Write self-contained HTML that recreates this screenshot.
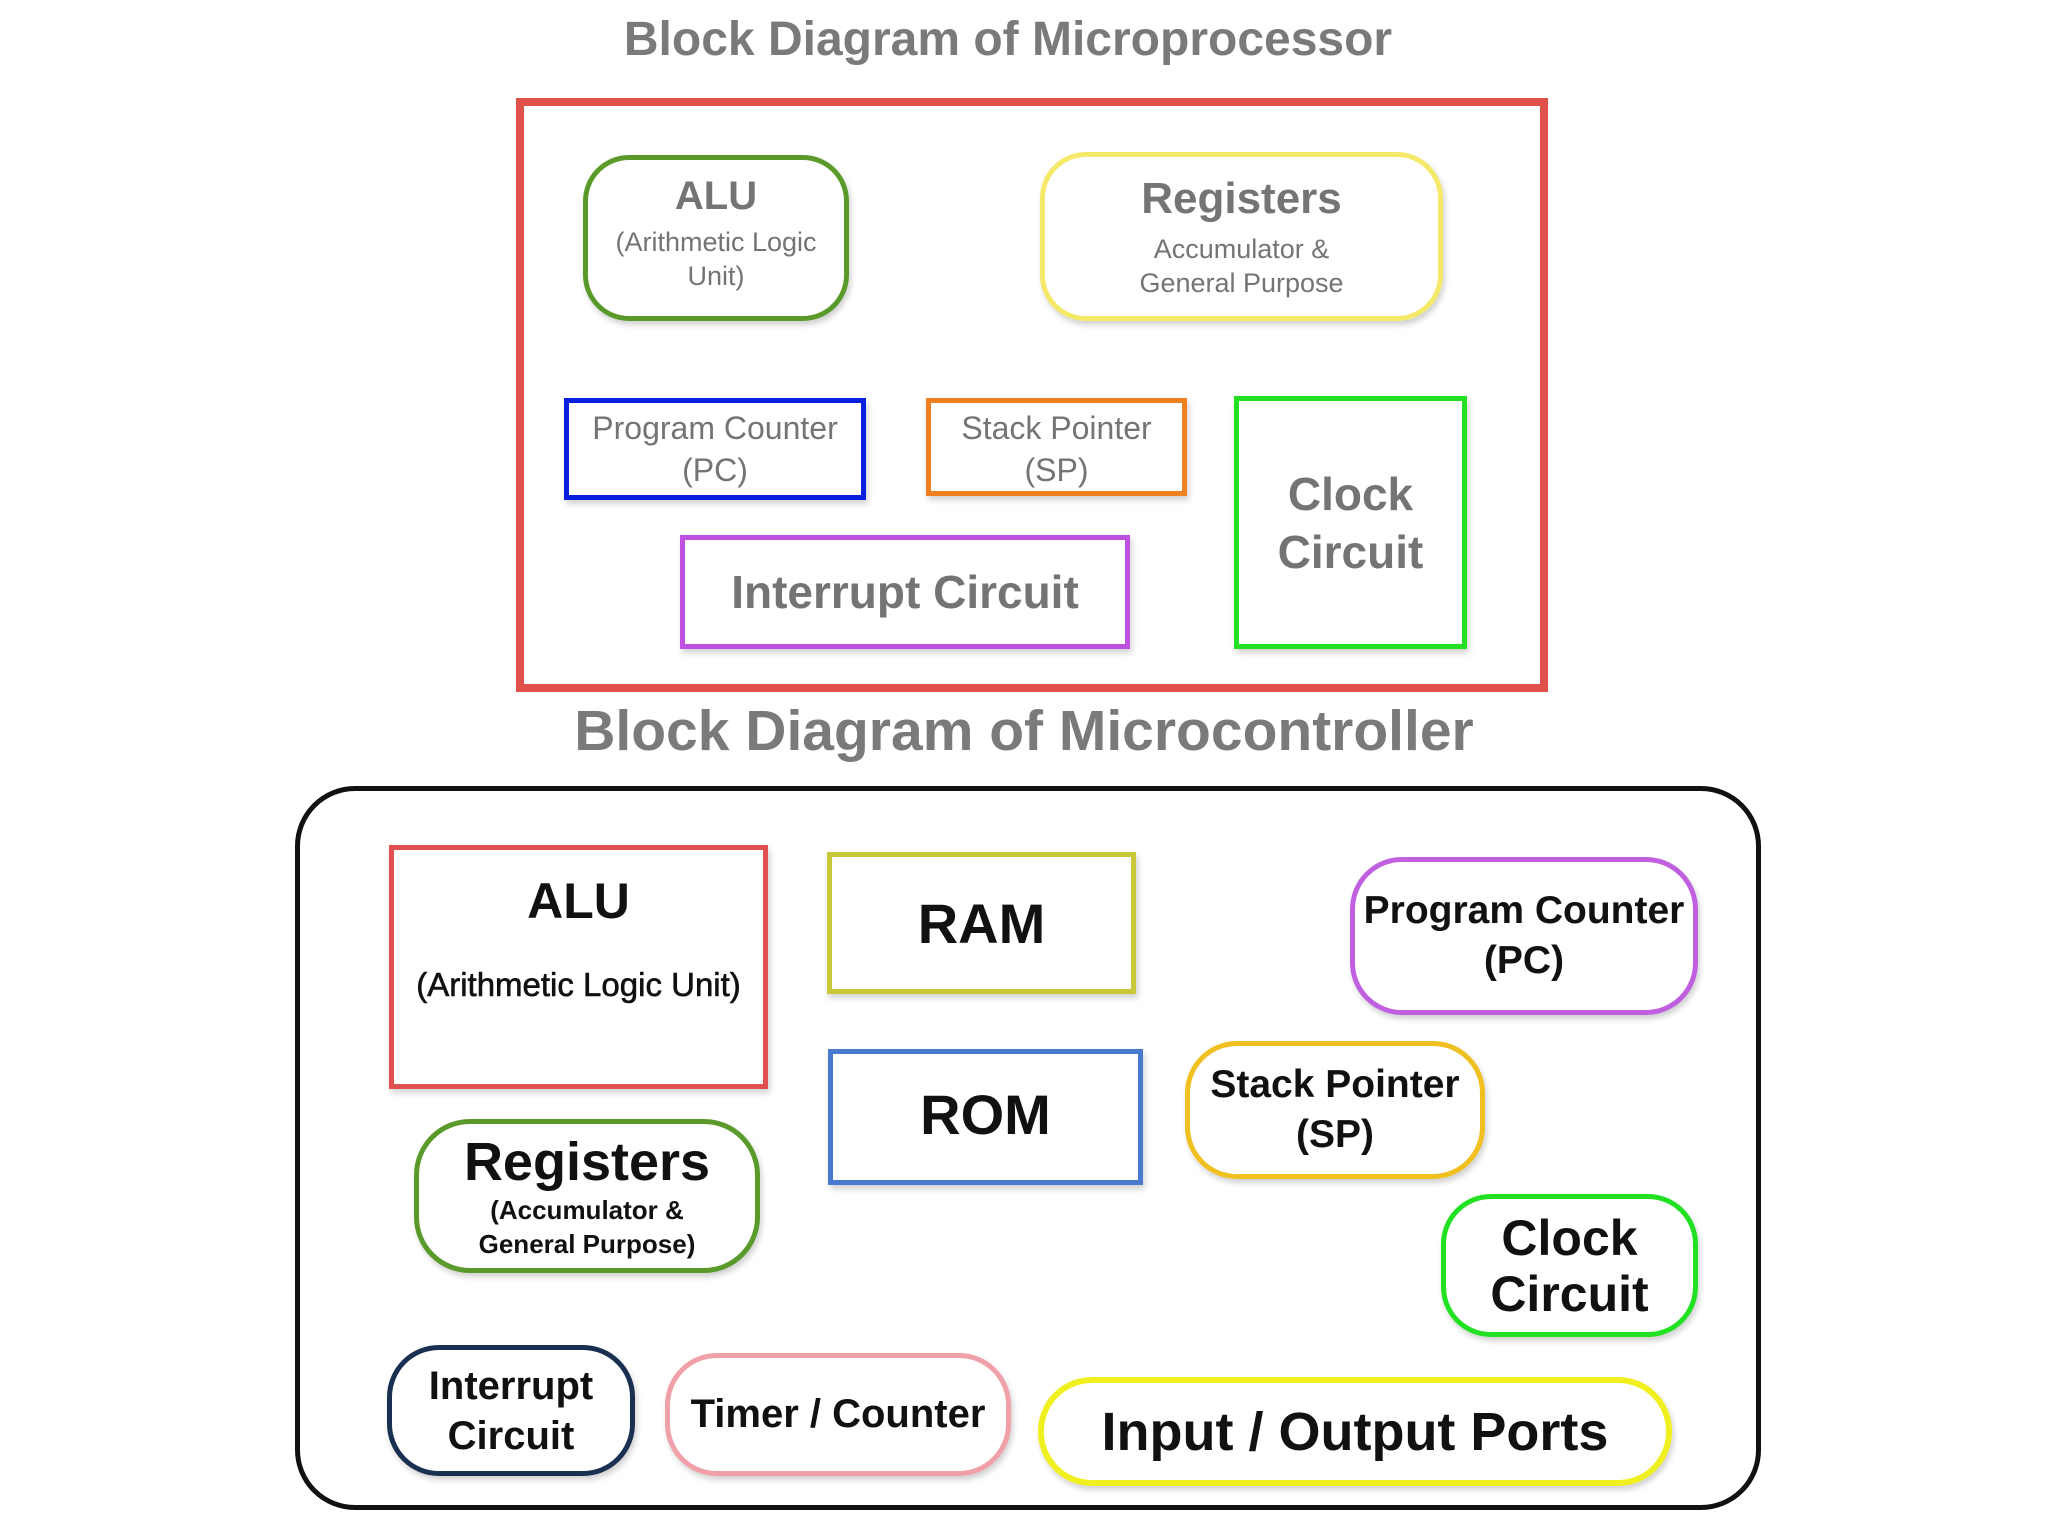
<!DOCTYPE html>
<html><head><meta charset="utf-8"><style>
html,body{margin:0;padding:0;background:#fff}
body{width:2048px;height:1536px;position:relative;overflow:hidden;font-family:"Liberation Sans",sans-serif}
.b{position:absolute;box-sizing:border-box;display:flex;flex-direction:column;align-items:center;justify-content:center;text-align:center;box-shadow:2px 4px 6px rgba(0,0,0,0.18)}
.g{color:#747474;font-weight:bold}
.k{color:#111;font-weight:bold}
.t{position:absolute;width:2048px;text-align:center;color:#7a7a7a;font-weight:bold}
</style></head><body>
<div class="t" style="top:12px;font-size:48px;left:-16px">Block Diagram of Microprocessor</div>
<div class="b" style="left:516px;top:98px;width:1032px;height:594px;border:8px solid #e2504a;box-shadow:none"></div>

<div class="b g" style="left:583px;top:155px;width:266px;height:166px;border:5px solid #5a9a2a;border-radius:46px">
<div style="font-size:40px;margin-top:-10px">ALU</div><div style="font-size:27px;font-weight:normal;line-height:34px;margin-top:6px">(Arithmetic Logic<br>Unit)</div></div>
<div class="b g" style="left:1040px;top:152px;width:403px;height:169px;border:5px solid #f5e96a;border-radius:46px">
<div style="font-size:44px;margin-bottom:8px">Registers</div><div style="font-size:27px;font-weight:normal;line-height:34px">Accumulator &amp;<br>General Purpose</div></div>
<div class="b g" style="left:564px;top:398px;width:302px;height:102px;border:5px solid #0a1ee0;font-size:32px;line-height:42px;font-weight:normal">Program Counter<br>(PC)</div>
<div class="b g" style="left:926px;top:398px;width:261px;height:98px;border:5px solid #f08020;font-size:32px;line-height:42px;font-weight:normal;justify-content:flex-start;padding-top:4px">Stack Pointer<br>(SP)</div>
<div class="b g" style="left:1234px;top:396px;width:233px;height:253px;border:5px solid #22e022;font-size:46px;line-height:58px">Clock<br>Circuit</div>
<div class="b g" style="left:680px;top:535px;width:450px;height:114px;border:5px solid #c050e0;font-size:46px">Interrupt Circuit</div>

<div class="t" style="top:698px;font-size:57px;left:0px">Block Diagram of Microcontroller</div>
<div class="b" style="left:295px;top:786px;width:1466px;height:724px;border:5px solid #111;border-radius:60px;box-shadow:none"></div>

<div class="b k" style="left:389px;top:845px;width:379px;height:244px;border:5px solid #e05050;justify-content:flex-start">
<div style="font-size:50px;margin-top:22px">ALU</div><div style="font-size:33px;margin-top:36px;font-weight:normal;color:#111;-webkit-text-stroke:0.6px #111">(Arithmetic Logic Unit)</div></div>
<div class="b k" style="left:827px;top:852px;width:309px;height:142px;border:5px solid #c8c83a;font-size:56px">RAM</div>
<div class="b k" style="left:828px;top:1049px;width:315px;height:136px;border:5px solid #4a7ad0;font-size:56px;justify-content:flex-start;padding-top:28px">ROM</div>
<div class="b k" style="left:1350px;top:857px;width:348px;height:158px;border:5px solid #c060e0;border-radius:52px;font-size:39px;line-height:50px">Program Counter<br>(PC)</div>
<div class="b k" style="left:1185px;top:1041px;width:300px;height:138px;border:5px solid #f0c020;border-radius:52px;font-size:39px;line-height:50px">Stack Pointer<br>(SP)</div>
<div class="b k" style="left:414px;top:1119px;width:346px;height:154px;border:5px solid #5a9a2a;border-radius:56px">
<div style="font-size:54px">Registers</div><div style="font-size:26px;line-height:34px">(Accumulator &amp;<br>General Purpose)</div></div>
<div class="b k" style="left:1441px;top:1194px;width:257px;height:143px;border:5px solid #22e022;border-radius:50px;font-size:50px;line-height:56px">Clock<br>Circuit</div>
<div class="b k" style="left:387px;top:1345px;width:248px;height:131px;border:5px solid #1a3050;border-radius:52px;font-size:40px;line-height:50px">Interrupt<br>Circuit</div>
<div class="b k" style="left:665px;top:1353px;width:346px;height:123px;border:5px solid #f0a0a8;border-radius:52px;font-size:40px;white-space:nowrap">Timer / Counter</div>
<div class="b k" style="left:1038px;top:1377px;width:634px;height:109px;border:6px solid #f0f020;border-radius:54px;font-size:54px;white-space:nowrap">Input / Output Ports</div>
</body></html>
